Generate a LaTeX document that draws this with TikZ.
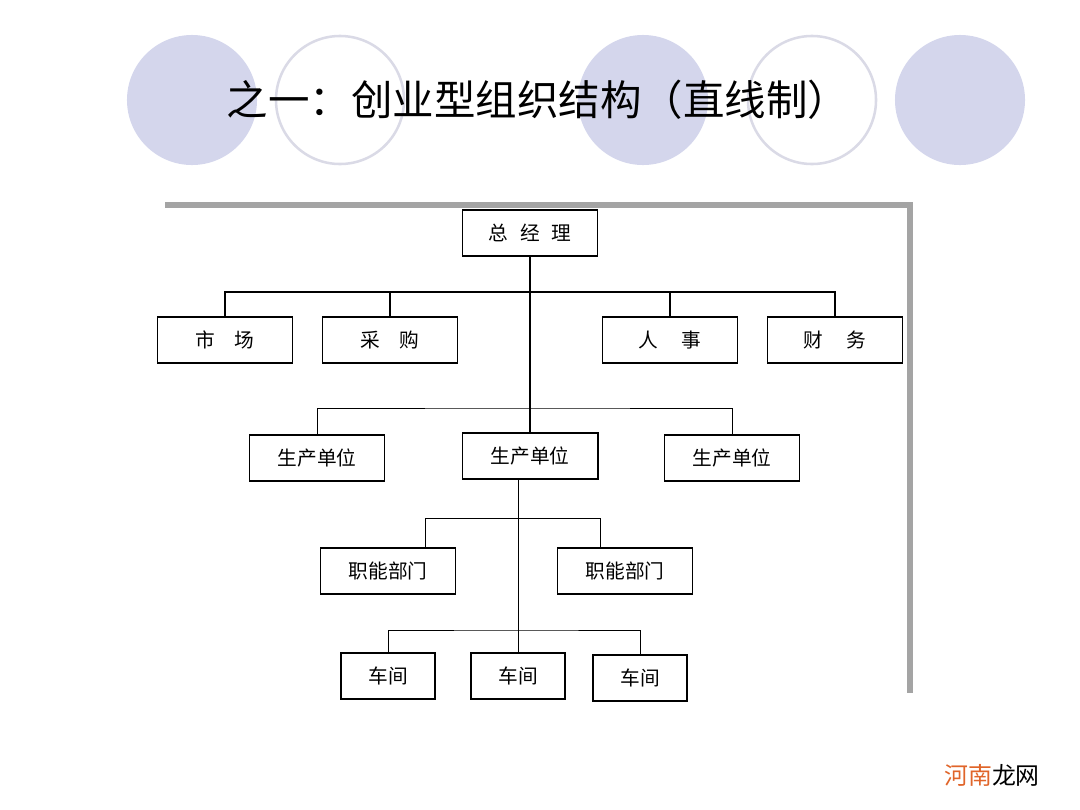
\documentclass[tikz,border=0pt]{standalone}
\usepackage{fontspec}
\setmainfont{Noto Sans CJK SC}
\newfontfamily\cjk{Noto Sans CJK SC}
\definecolor{ballfill}{HTML}{D4D6EC}
\definecolor{ballring}{HTML}{DADAE6}
\definecolor{framegray}{HTML}{A4A4A4}
\definecolor{markorange}{HTML}{E0652A}
\begin{document}
\begin{tikzpicture}[x=0.025cm, y=-0.025cm,
    ball/.style={circle, fill=ballfill, minimum size=3.25cm, inner sep=0pt},
    ring/.style={circle, draw=ballring, line width=1.8pt, minimum size=3.2cm, inner sep=0pt},
    unit/.style={rectangle, draw, line width=1.1pt, fill=white, minimum width=3.375cm, minimum height=1.15cm, font=\cjk\fontsize{14}{16}\selectfont},
    shop/.style={unit, minimum width=2.35cm},
    bus/.style={line width=1.3pt},
    link/.style={line width=0.7pt}
]
\useasboundingbox (0,0) rectangle (1080,810);

% Background balls
\node[ball] (b1) at (192,100) {};
\node[ring] (r1) at (340,100) {};
\node[ball] (b2) at (643,100) {};
\node[ring] (r2) at (812,100) {};
\node[ball] (b3) at (960,100) {};

% Title
\node[font=\cjk\fontsize{29.5}{33}\selectfont] (title) at (538,100) {之一：创业型组织结构（直线制）};

% Gray frame
\draw[framegray, line width=4.3pt] (165,205) -- (910,205) -- (910,693);

% Top level
\node[unit] (boss) at (530,233) {总\hspace{0.6em}经\hspace{0.6em}理};

% Staff departments
\node[unit] (market) at (225,340) {市\hspace{1em}场};
\node[unit] (purchase) at (390,340) {采\hspace{1em}购};
\node[unit] (hr) at (670,340) {人\hspace{1.2em}事};
\node[unit] (finance) at (835,340) {财\hspace{1.2em}务};

% Production units
\node[unit] (unitl) at (317,458) {生产单位};
\node[unit, line width=1.4pt] (unitm) at (530,456) {生产单位};
\node[unit] (unitr) at (732,458) {生产单位};

% Functional departments
\node[unit] (funcl) at (388,571) {职能部门};
\node[unit] (funcr) at (625,571) {职能部门};

% Workshops
\node[shop] (shopl) at (388,676) {车间};
\node[shop] (shopm) at (518,676) {车间};
\node[shop] (shopr) at (640,678) {车间};

% Bus points
\coordinate (topbus) at (530,292);
\coordinate (unitbus) at (530,408);
\coordinate (funcleft) at (425,518);
\coordinate (funcright) at (600,518);
\coordinate (shopbus) at (518,630);

% Connectors
\draw[bus] (boss.south) -- (unitm.north);
\draw[bus] (market.north) |- (topbus) -| (finance.north);
\draw[bus] (purchase.north) -- (purchase.north |- topbus);
\draw[bus] (hr.north) -- (hr.north |- topbus);
\draw[link] (unitl.north) |- (unitbus) -| (unitr.north);
\draw[link] (unitm.south -| shopm) -- (shopm.north);
\draw[link] (funcleft |- funcl.north) -- (funcleft) -- (funcright) -- (funcright |- funcr.north);
\draw[link] (shopl.north) |- (shopbus) -| (shopr.north);

% Watermark
\node[font=\cjk\fontsize{17}{20}\selectfont, inner sep=0pt] (mark) at (992,775) {\textcolor{markorange}{河南}龙网};
\end{tikzpicture}
\end{document}
